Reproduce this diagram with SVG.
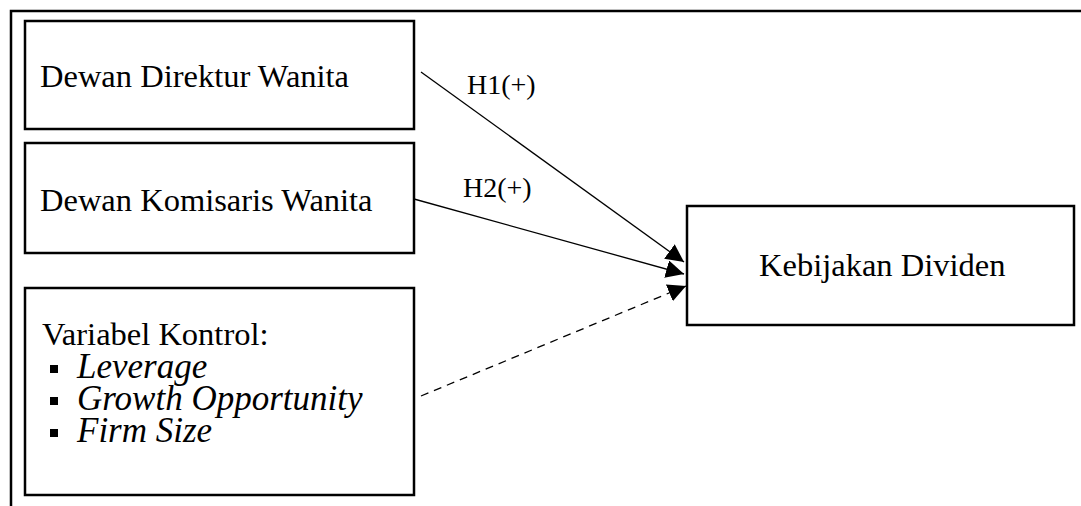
<svg xmlns="http://www.w3.org/2000/svg" width="1081" height="506" viewBox="0 0 1081 506">
<style>
.box{fill:#fff;stroke:#000;stroke-width:2.5}
.t{font-family:"Liberation Serif","Times New Roman",serif;font-size:32.5px;fill:#000}
.h{font-family:"Liberation Serif","Times New Roman",serif;font-size:28px;fill:#000}
.i{font-style:italic;font-size:35px}
.c{stroke:#000;stroke-width:1.3;fill:none}
</style>
<defs>
<marker id="ah" viewBox="0 0 10 10" refX="10" refY="5" markerWidth="18" markerHeight="18" markerUnits="userSpaceOnUse" orient="auto">
<path d="M0,0 L10,5 L0,10 z" fill="#000"/>
</marker>
</defs>
<rect width="1081" height="506" fill="#fff"/>
<g id="frame"><path d="M11,506 V11 H1081" fill="none" stroke="#000" stroke-width="2.5"/></g>
<g id="n1"><rect class="box" x="25" y="21" width="389" height="108"/><text class="t" x="40" y="87">Dewan Direktur Wanita</text></g>
<g id="n2"><rect class="box" x="25" y="143" width="389" height="110"/><text class="t" x="40" y="211">Dewan Komisaris Wanita</text></g>
<g id="n3"><rect class="box" x="25" y="288" width="389" height="207"/>
<text class="t" x="42" y="345">Variabel Kontrol:</text>
<rect x="50" y="365" width="8" height="8"/><text class="t i" x="77" y="378">Leverage</text>
<rect x="50" y="397" width="8" height="8"/><text class="t i" x="77" y="410">Growth Opportunity</text>
<rect x="50" y="429" width="8" height="8"/><text class="t i" x="77" y="442">Firm Size</text>
</g>
<g id="n4"><rect class="box" x="687" y="206" width="387" height="119"/><text class="t" x="759" y="276">Kebijakan Dividen</text></g>
<g id="connectors">
<line class="c" x1="421" y1="72" x2="684" y2="262" marker-end="url(#ah)"/>
<line class="c" x1="414" y1="199" x2="684" y2="274" marker-end="url(#ah)"/>
<line class="c" x1="421" y1="396" x2="686" y2="286" stroke-dasharray="8,6" marker-end="url(#ah)"/>
<text class="h" x="467" y="94">H1(+)</text>
<text class="h" x="463" y="197">H2(+)</text>
</g>
</svg>
